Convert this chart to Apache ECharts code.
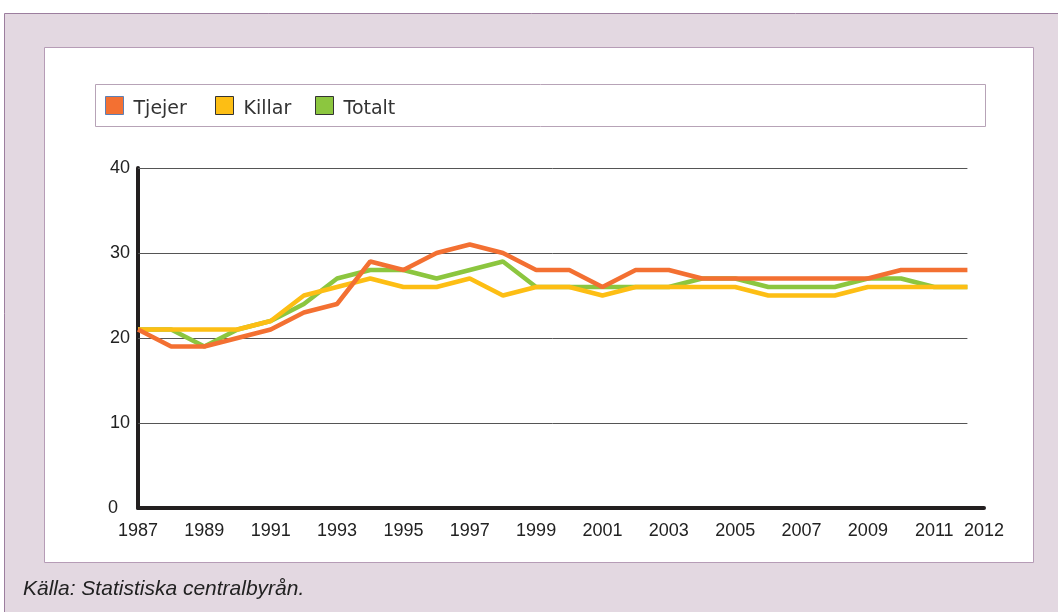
<!DOCTYPE html>
<html><head><meta charset="utf-8">
<script src="https://cdn.jsdelivr.net/npm/echarts@6/dist/echarts.min.js"></script>
<style>html,body{margin:0;padding:0;background:#fff}#c{width:1058px;height:612px}</style>
</head><body><div id="c"></div>
<script>
const years = [1987,1988,1989,1990,1991,1992,1993,1994,1995,1996,1997,1998,1999,2000,2001,2002,2003,2004,2005,2006,2007,2008,2009,2010,2011,2012];
const tjejer = [21,19,19,20,21,23,24,29,28,30,31,30,28,28,26,28,28,27,27,27,27,27,27,28,28,28];
const killar = [21,21,21,21,22,25,26,27,26,26,27,25,26,26,25,26,26,26,26,25,25,25,26,26,26,26];
const totalt = [21,21,19,21,22,24,27,28,28,27,28,29,26,26,26,26,26,27,27,26,26,26,27,27,26,26];
const xTickValues = [1987,1989,1991,1993,1995,1997,1999,2001,2003,2005,2007,2009,2011,2012.5];
const xTickLabels = ['1987','1989','1991','1993','1995','1997','1999','2001','2003','2005','2007','2009','2011','2012'];
const gridValues = [10,20,30,40];
const seriesNames = ['Tjejer','Killar','Totalt'];
const colors = ['#F37032','#FDBE14','#8CC63F'];
const legendBorders = ['#5B7FB5','#333','#333'];
const legendLefts = [105,215,315];

const pair = (arr) => years.map((y,i)=>[y,arr[i]]);
const chart = echarts.init(document.getElementById('c'), null, {renderer:'canvas'});
const fontF = '"Liberation Sans", Arial, sans-serif';
const legFont = '"DejaVu Sans", Verdana, sans-serif';
chart.setOption({
  animation:false,
  backgroundColor:'#fff',
  graphic:[
    {type:'rect', z:-10, shape:{x:4.5,y:13.5,width:1060,height:610}, style:{fill:'#E3D8E1', stroke:'#9C7E9E', lineWidth:1}},
    {type:'rect', z:-9, shape:{x:44.5,y:47.5,width:989,height:515}, style:{fill:'#fff', stroke:'#B69CB6', lineWidth:1}},
    {type:'rect', z:-8, shape:{x:95.5,y:84.5,width:890,height:42}, style:{fill:'#fff', stroke:'#B7A3B7', lineWidth:1}},
    {type:'text', left:23, top:579, style:{text:'Källa: Statistiska centralbyrån.', font:'italic 21px "Liberation Sans", Arial, sans-serif', fill:'#222'}}
  ],
  legend: seriesNames.map((n,i)=>({
    left:legendLefts[i], top:96, itemWidth:18, itemHeight:18, icon:'rect', padding:0,
    formatter:(name)=>'{a|'+name+'}',
    textStyle:{fontFamily:legFont, fontSize:19, color:'#333',
      rich:{a:{fontFamily:legFont, fontSize:19, color:'#333', padding:[7,0,0,5]}}},
    data:[{name:n, itemStyle:{color:colors[i], borderColor:legendBorders[i], borderWidth:1}}]
  })),
  grid:{left:138, top:168, right:74, bottom:104, containLabel:false},
  xAxis:{
    type:'value', min:1987, max:2012.5,
    axisLine:{show:true, onZero:false, lineStyle:{color:'#231F20', width:4}},
    axisTick:{show:false},
    splitLine:{show:false},
    axisLabel:{
      customValues:xTickValues, showMinLabel:true, showMaxLabel:true,
      formatter:(v)=>{const i=xTickValues.indexOf(v); return i>=0?xTickLabels[i]:'';},
      fontFamily:fontF, fontSize:18, color:'#222', margin:14
    }
  },
  yAxis:{
    type:'value', min:0, max:40, interval:10,
    axisLine:{show:true, lineStyle:{color:'#231F20', width:4}},
    axisTick:{show:false},
    splitLine:{show:false},
    axisLabel:{fontFamily:fontF, fontSize:18, color:'#222', margin:8,
      formatter:(v)=> v===0 ? '{z|0}' : String(v),
      rich:{z:{fontFamily:fontF, fontSize:18, color:'#222', padding:[0,12,0,0]}}}
  },
  series:[
    {name:'Totalt', type:'line', data:pair(totalt), symbol:'none', z:2, lineStyle:{color:colors[2], width:4.5}, itemStyle:{color:colors[2]}},
    {name:'Killar', type:'line', data:pair(killar), symbol:'none', z:3, lineStyle:{color:colors[1], width:4.5}, itemStyle:{color:colors[1]}},
    {name:'Tjejer', type:'line', data:pair(tjejer), symbol:'none', z:4, lineStyle:{color:colors[0], width:4.5}, itemStyle:{color:colors[0]},
     markLine:{silent:true, symbol:['none','none'], label:{show:false}, z:1,
       lineStyle:{color:'#555', width:1, type:'solid'},
       data:gridValues.map(v=>[{coord:[years[0],v]},{coord:[years[years.length-1],v]}])}
    }
  ]
});
</script></body></html>
